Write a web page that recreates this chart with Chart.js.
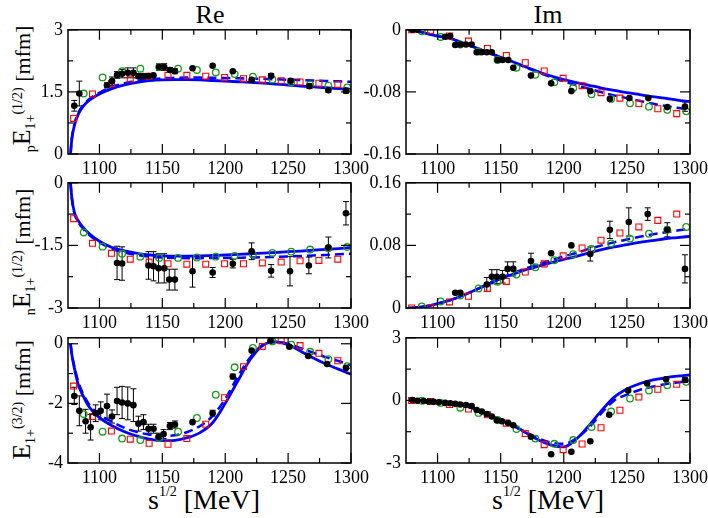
<!DOCTYPE html>
<html>
<head>
<meta charset="utf-8">
<script src="https://cdn.jsdelivr.net/npm/chart.js@4.4.0/dist/chart.umd.min.js"></script>
<style>
body { margin: 0; background: #fff; width: 708px; height: 518px; position: relative; overflow: hidden; font-family: "Liberation Serif", "Times New Roman", serif; }
canvas { position: absolute; }
.lbl { position: absolute; white-space: nowrap; color: #000; line-height: 1; }
.title { font-size: 26px; transform: translateX(-50%); }
.xt { font-size: 28px; transform: translateX(-50%); }
.xt sup { font-size: 14px; vertical-align: 13px; }
.ylab { font-size: 22px; transform: translate(-50%, -50%) rotate(-90deg); }
.ylab .big { font-size: 26px; }
.ylab sub, .ylab sup { font-size: 14px; line-height: 0; }
</style>
</head>
<body>
<div class="lbl title" style="left:210px; top:2px;">Re</div>
<div class="lbl title" style="left:548px; top:2px;">Im</div>
<div class="lbl ylab" style="left:22px; top:89px;"><sub>p</sub><span class="big">E</span><sub>1+</sub><sup>(1/2)</sup> [mfm]</div>
<div class="lbl ylab" style="left:22px; top:252px;"><sub>n</sub><span class="big">E</span><sub>1+</sub><sup>(1/2)</sup> [mfm]</div>
<div class="lbl ylab" style="left:22px; top:400px;"><span class="big">E</span><sub>1+</sub><sup>(3/2)</sup> [mfm]</div>
<div class="lbl xt" style="left:204px; top:485px;">s<sup>1/2</sup> [MeV]</div>
<div class="lbl xt" style="left:548px; top:485px;">s<sup>1/2</sup> [MeV]</div>

<canvas id="c1"></canvas>
<canvas id="c2"></canvas>
<canvas id="c3"></canvas>
<canvas id="c4"></canvas>
<canvas id="c5"></canvas>
<canvas id="c6"></canvas>

<script>
// --- energies (MeV) ---
const xMajor = [1100, 1150, 1200, 1250, 1300];
const xMinor = [1125, 1175, 1225, 1275];
const fitX = [1077, 1078, 1080, 1083, 1087, 1092, 1100, 1110, 1120, 1130, 1140, 1150, 1160, 1170, 1180, 1190, 1200, 1210, 1220, 1230, 1240, 1250, 1260, 1270, 1280, 1290, 1300];
const greenX = [1087.5, 1102.5, 1118, 1132.5, 1147.5, 1162.5, 1177.5, 1192.5, 1207.5, 1222, 1237.5, 1252.5, 1267.5, 1282, 1297];
const redX = [1079.5, 1094.5, 1109.5, 1124.5, 1139.5, 1154.5, 1169.5, 1184.5, 1199.5, 1214.5, 1229.5, 1244.5, 1259.5, 1274.5, 1289.5];
const pBlackX = [1080, 1084, 1106, 1110, 1114, 1118, 1122.5, 1127, 1131, 1135, 1139, 1143, 1147.5, 1151.5, 1156, 1160, 1174, 1190, 1206, 1221, 1236.5, 1252, 1267, 1282, 1296];
const nBlackX = [1114, 1118, 1139, 1143, 1147, 1151.5, 1155.5, 1160, 1174, 1190, 1206, 1221, 1236.5, 1251.5, 1266.5, 1282, 1296];
const dBlackX = [1080, 1084, 1089, 1093, 1097, 1101, 1106, 1110, 1114, 1118, 1122.5, 1127, 1131, 1135, 1139, 1143, 1147, 1151, 1156, 1160, 1174, 1190, 1206, 1221, 1236, 1251, 1266, 1281, 1296];

// --- E(1/2) proton, Re ---
const pReBlack = [1.165, 1.46, 1.66, 1.76, 1.91, 1.94, 1.96, 1.96, 1.88, 1.88, 1.88, 1.9, 2.1, 2.1, 2.03, 2.0, 2.07, 2.13, 2.0, 1.79, 1.89, 1.77, 1.64, 1.54, 1.53];
const pReBlackErr = [0.13, 0.3, 0.06, 0.1, 0.08, 0.1, 0.12, 0.12, 0.06, 0.06, 0.04, 0.04, 0.08, 0.08, 0.06, 0.06, 0.02, 0.02, 0.03, 0.04, 0.05, 0.05, 0.06, 0.05, 0.06];
const pReGreen = [1.46, 1.85, 2.0, 2.06, 2.1, 2.06, 2.03, 1.97, 1.93, 1.87, 1.8, 1.73, 1.68, 1.65, 1.61];
const pReRed = [0.86, 1.45, 1.70, 1.81, 1.88, 1.9, 1.9, 1.88, 1.85, 1.82, 1.79, 1.77, 1.74, 1.71, 1.68];
const pReFit = [0, 0.35, 0.68, 0.95, 1.15, 1.30, 1.45, 1.58, 1.67, 1.73, 1.77, 1.79, 1.795, 1.795, 1.79, 1.775, 1.76, 1.745, 1.73, 1.71, 1.69, 1.665, 1.64, 1.62, 1.60, 1.58, 1.56];
const pReDash = [0, 0.36, 0.70, 0.98, 1.18, 1.33, 1.48, 1.62, 1.71, 1.77, 1.80, 1.83, 1.84, 1.845, 1.845, 1.84, 1.835, 1.83, 1.82, 1.815, 1.805, 1.795, 1.785, 1.775, 1.765, 1.755, 1.745];

// --- E(1/2) proton, Im ---
const pImBlack = [0, 0, -0.009, -0.008, -0.0196, -0.019, -0.019, -0.019, -0.029, -0.029, -0.029, -0.029, -0.039, -0.039, -0.039, -0.049, -0.059, -0.069, -0.079, -0.079, -0.089, -0.088, -0.088, -0.0996, -0.099];
const pImBlackErr = [0.001, 0.001, 0.001, 0.001, 0.001, 0.001, 0.001, 0.001, 0.001, 0.001, 0.001, 0.001, 0.001, 0.001, 0.001, 0.001, 0.001, 0.001, 0.001, 0.001, 0.001, 0.001, 0.001, 0.001, 0.006];
const pImGreen = [-0.002, -0.0092, -0.019, -0.028, -0.039, -0.049, -0.058, -0.0675, -0.075, -0.083, -0.089, -0.0946, -0.099, -0.103, -0.105];
const pImRed = [0, -0.001, -0.008, -0.0146, -0.024, -0.033, -0.0425, -0.053, -0.0625, -0.072, -0.081, -0.088, -0.095, -0.1017, -0.108];
const pImFit = [0, 0, -0.0005, -0.0015, -0.003, -0.005, -0.008, -0.011, -0.017, -0.023, -0.029, -0.0355, -0.0415, -0.048, -0.054, -0.0595, -0.064, -0.068, -0.0715, -0.075, -0.078, -0.081, -0.0835, -0.086, -0.088, -0.0905, -0.0925];
const pImDash = [0, 0, -0.0005, -0.0015, -0.003, -0.005, -0.008, -0.011, -0.017, -0.023, -0.029, -0.0355, -0.0415, -0.0485, -0.055, -0.061, -0.0665, -0.0715, -0.076, -0.0805, -0.0845, -0.088, -0.0915, -0.095, -0.098, -0.1005, -0.103];

// --- E(1/2) neutron, Re ---
const nReBlack = [-1.92, -1.935, -1.98, -2.0, -2.05, -2.05, -2.32, -2.32, -2.12, -2.15, -1.94, -1.64, -2.11, -2.12, -1.98, -1.55, -0.73];
const nReBlackErr = [0.4, 0.4, 0.33, 0.35, 0.35, 0.35, 0.25, 0.25, 0.38, 0.12, 0.1, 0.2, 0.15, 0.35, 0.2, 0.25, 0.28];
const nReGreen = [-1.19, -1.53, -1.70, -1.77, -1.80, -1.80, -1.79, -1.77, -1.75, -1.72, -1.68, -1.65, -1.60, -1.57, -1.54];
const nReRed = [-0.86, -1.45, -1.69, -1.83, -1.90, -1.94, -1.95, -1.95, -1.94, -1.94, -1.92, -1.9, -1.87, -1.86, -1.83];
const nReFit = [0, -0.35, -0.7, -0.9, -1.07, -1.22, -1.40, -1.55, -1.63, -1.69, -1.73, -1.75, -1.755, -1.755, -1.75, -1.74, -1.73, -1.715, -1.70, -1.685, -1.67, -1.65, -1.635, -1.615, -1.595, -1.575, -1.55];
const nReDash = [0, -0.36, -0.72, -0.93, -1.1, -1.25, -1.43, -1.58, -1.67, -1.73, -1.77, -1.79, -1.80, -1.805, -1.805, -1.80, -1.80, -1.795, -1.79, -1.785, -1.775, -1.765, -1.755, -1.74, -1.73, -1.715, -1.70];

// --- E(1/2) neutron, Im ---
const nImBlack = [0.0195, 0.0195, 0.030, 0.040, 0.040, 0.040, 0.050, 0.050, 0.060, 0.070, 0.080, 0.069, 0.0999, 0.11, 0.12, 0.10, 0.050];
const nImBlackErr = [0.001, 0.001, 0.009, 0.009, 0.009, 0.008, 0.009, 0.009, 0.01, 0.002, 0.002, 0.009, 0.011, 0.018, 0.008, 0.009, 0.018];
const nImGreen = [0.002, 0.0083, 0.016, 0.025, 0.0336, 0.0427, 0.052, 0.061, 0.0688, 0.0755, 0.0825, 0.0887, 0.095, 0.1, 0.1036];
const nImRed = [0, 0.0004, 0.0078, 0.015, 0.025, 0.034, 0.046, 0.0564, 0.0667, 0.0767, 0.0867, 0.0958, 0.1036, 0.112, 0.12];
const nImFit = [0, 0, 0.0002, 0.0006, 0.0013, 0.0025, 0.0055, 0.0100, 0.0160, 0.0230, 0.0305, 0.0375, 0.0435, 0.049, 0.0535, 0.058, 0.062, 0.066, 0.0705, 0.0745, 0.078, 0.081, 0.084, 0.086, 0.0885, 0.090, 0.0916];
const nImDash = [0, 0, 0.0002, 0.0006, 0.0013, 0.0025, 0.0055, 0.0100, 0.0160, 0.0230, 0.0305, 0.0380, 0.0445, 0.0505, 0.0560, 0.061, 0.066, 0.0705, 0.0755, 0.080, 0.084, 0.0875, 0.091, 0.094, 0.0965, 0.099, 0.101];

// --- E(3/2), Re ---
const dReBlack = [-1.75, -2.25, -2.6, -2.8, -2.33, -2.25, -2.09, -2.44, -1.92, -1.97, -2.0, -2.06, -2.68, -2.63, -2.85, -2.85, -3.12, -3.03, -2.76, -2.71, -2.63, -2.33, -1.1, -0.23, 0.11, -0.1, -0.41, -0.68, -0.81];
const dReBlackErr = [0.29, 0.5, 0.4, 0.43, 0.28, 0.3, 0.4, 0.22, 0.46, 0.54, 0.55, 0.55, 0.25, 0.25, 0.15, 0.15, 0.12, 0.15, 0.12, 0.12, 0.05, 0.1, 0.08, 0.05, 0.05, 0.05, 0.05, 0.05, 0.05];
const dReGreen = [-2.36, -2.95, -3.18, -3.23, -3.16, -2.95, -2.49, -1.71, -0.79, -0.14, 0.08, -0.03, -0.27, -0.52, -0.75];
const dReRed = [-1.42, -2.44, -2.93, -3.20, -3.34, -3.37, -3.18, -2.7, -1.81, -0.77, -0.09, 0.1, -0.06, -0.32, -0.57];
const dReFit = [0, -0.35, -0.8, -1.35, -1.75, -2.13, -2.48, -2.75, -2.95, -3.10, -3.2, -3.25, -3.24, -3.15, -2.98, -2.65, -2.0, -1.25, -0.52, -0.05, 0.06, -0.03, -0.25, -0.48, -0.68, -0.85, -1.02];
const dReDash = [0, -0.33, -0.75, -1.25, -1.68, -2.05, -2.38, -2.62, -2.82, -2.96, -3.05, -3.09, -3.07, -2.96, -2.76, -2.42, -1.85, -1.1, -0.45, -0.03, 0.06, 0.0, -0.15, -0.3, -0.45, -0.58, -0.72];

// --- E(3/2), Im ---
const dImBlack = [0.02, -0.02, -0.03, -0.05, -0.07, -0.09, -0.12, -0.14, -0.16, -0.2, -0.22, -0.27, -0.46, -0.53, -0.65, -0.77, -0.95, -1.0, -1.08, -1.19, -1.74, -2.58, -2.46, -1.96, -0.69, 0.47, 0.81, 1.01, 0.98];
const dImBlackErr = [0.02, 0.02, 0.02, 0.02, 0.02, 0.02, 0.02, 0.02, 0.02, 0.02, 0.02, 0.02, 0.02, 0.02, 0.02, 0.02, 0.02, 0.02, 0.02, 0.02, 0.03, 0.03, 0.03, 0.03, 0.05, 0.05, 0.05, 0.08, 0.12];
const dImGreen = [-0.02, -0.12, -0.35, -0.6, -0.94, -1.37, -1.83, -2.08, -1.9, -1.28, -0.53, 0.09, 0.47, 0.73, 0.89];
const dImRed = [0.0, -0.05, -0.2, -0.41, -0.69, -1.09, -1.59, -2.12, -2.36, -2.09, -1.31, -0.47, 0.16, 0.53, 0.77];
const dImFit = [0.03, 0.03, 0.02, 0.01, 0, -0.02, -0.06, -0.13, -0.24, -0.42, -0.66, -0.94, -1.22, -1.55, -1.9, -2.14, -2.23, -1.85, -1.2, -0.48, 0.16, 0.55, 0.8, 0.97, 1.08, 1.16, 1.22];
const dImDash = [0.03, 0.03, 0.02, 0.01, 0, -0.02, -0.06, -0.13, -0.24, -0.42, -0.66, -0.94, -1.22, -1.52, -1.83, -2.02, -2.08, -1.82, -1.3, -0.6, 0.0, 0.28, 0.5, 0.65, 0.77, 0.86, 0.94];

// --- panel setup ---
const panels = [
    { id: 'c1', box: [68, 26, 351, 154], yMin: 0, yMax: 3, major: [0, 1.5, 3], minor: [0.75, 2.25], labels: ['0', '1.5', '3'],
      bx: pBlackX, by: pReBlack, be: pReBlackErr, gy: pReGreen, ry: pReRed, fit: pReFit, dash: pReDash },
    { id: 'c2', box: [406, 26, 690, 154], yMin: -0.16, yMax: 0, major: [-0.16, -0.08, 0], minor: [-0.12, -0.04], labels: ['-0.16', '-0.08', '0'],
      bx: pBlackX, by: pImBlack, be: pImBlackErr, gy: pImGreen, ry: pImRed, fit: pImFit, dash: pImDash },
    { id: 'c3', box: [68, 179, 351, 308], yMin: -3, yMax: 0, major: [-3, -1.5, 0], minor: [-2.25, -0.75], labels: ['-3', '-1.5', '0'],
      bx: nBlackX, by: nReBlack, be: nReBlackErr, gy: nReGreen, ry: nReRed, fit: nReFit, dash: nReDash },
    { id: 'c4', box: [406, 179, 690, 308], yMin: 0, yMax: 0.16, major: [0, 0.08, 0.16], minor: [0.04, 0.12], labels: ['0', '0.08', '0.16'],
      bx: nBlackX, by: nImBlack, be: nImBlackErr, gy: nImGreen, ry: nImRed, fit: nImFit, dash: nImDash },
    { id: 'c5', box: [68, 334, 351, 463], yMin: -4, yMax: 0.2, major: [-4, -2, 0], minor: [-3, -1], labels: ['-4', '-2', '0'],
      bx: dBlackX, by: dReBlack, be: dReBlackErr, gy: dReGreen, ry: dReRed, fit: dReFit, dash: dReDash },
    { id: 'c6', box: [406, 334, 690, 463], yMin: -3, yMax: 3, major: [-3, 0, 3], minor: [-1.5, 1.5], labels: ['-3', '0', '3'],
      bx: dBlackX, by: dImBlack, be: dImBlackErr, gy: dImGreen, ry: dImRed, fit: dImFit, dash: dImDash }
];

const PAD_L = 62, PAD_T = 12, PAD_R = 24, PAD_B = 26;
Chart.defaults.font.family = 'Liberation Serif';
const tickFont = { family: 'Liberation Serif', size: 18 };

function pts(xs, ys) {
    return xs.map((x, i) => ({ x: x, y: ys[i] }));
}

// frame, inward ticks and error bars
function framePlugin(p) {
    return {
        id: 'frame' + p.id,
        beforeDatasetsDraw(chart) {
            const ctx = chart.ctx, xs = chart.scales.x, ys = chart.scales.y;
            ctx.save();
            ctx.strokeStyle = '#000';
            ctx.lineWidth = 1;
            p.bx.forEach((xv, i) => {
                const x = xs.getPixelForValue(xv);
                const y1 = ys.getPixelForValue(p.by[i] - p.be[i]);
                const y2 = ys.getPixelForValue(p.by[i] + p.be[i]);
                if (Math.abs(y1 - y2) < 4) return;
                ctx.beginPath();
                ctx.moveTo(x, y1); ctx.lineTo(x, y2);
                ctx.moveTo(x - 3, y1); ctx.lineTo(x + 3, y1);
                ctx.moveTo(x - 3, y2); ctx.lineTo(x + 3, y2);
                ctx.stroke();
            });
            ctx.restore();
        },
        afterDraw(chart) {
            const ctx = chart.ctx, xs = chart.scales.x, ys = chart.scales.y;
            const a = chart.chartArea;
            ctx.save();
            ctx.strokeStyle = '#000';
            ctx.lineWidth = 1.2;
            const line = (x1, y1, x2, y2) => { ctx.beginPath(); ctx.moveTo(x1, y1); ctx.lineTo(x2, y2); ctx.stroke(); };
            xMajor.forEach(v => { const x = xs.getPixelForValue(v); line(x, a.bottom, x, a.bottom - 10); line(x, a.top, x, a.top + 10); });
            xMinor.forEach(v => { const x = xs.getPixelForValue(v); line(x, a.bottom, x, a.bottom - 5); line(x, a.top, x, a.top + 5); });
            p.major.forEach(v => { const y = ys.getPixelForValue(v); line(a.left, y, a.left + 10, y); line(a.right, y, a.right - 10, y); });
            p.minor.forEach(v => { const y = ys.getPixelForValue(v); line(a.left, y, a.left + 5, y); line(a.right, y, a.right - 5, y); });
            ctx.lineWidth = 1.5;
            ctx.strokeRect(a.left, a.top, a.right - a.left, a.bottom - a.top);
            ctx.restore();
        }
    };
}

function makePanel(p) {
    const cv = document.getElementById(p.id);
    const w = p.box[2] - p.box[0] + PAD_L + PAD_R;
    const h = p.box[3] - p.box[1] + PAD_T + PAD_B;
    cv.width = w; cv.height = h;
    cv.style.left = (p.box[0] - PAD_L) + 'px';
    cv.style.top = (p.box[1] - PAD_T) + 'px';
    cv.style.width = w + 'px'; cv.style.height = h + 'px';

    new Chart(cv, {
        type: 'scatter',
        data: {
            datasets: [
                { data: pts(p.bx, p.by), pointStyle: 'circle', pointRadius: 3.3, backgroundColor: '#000', borderColor: '#000', borderWidth: 0 },
                { data: pts(greenX, p.gy), pointStyle: 'circle', pointRadius: 3.3, backgroundColor: 'rgba(0,0,0,0)', borderColor: '#1a9a1a', borderWidth: 1.3 },
                { data: pts(redX, p.ry), pointStyle: 'rect', pointRadius: 4.2, backgroundColor: 'rgba(0,0,0,0)', borderColor: '#ff0000', borderWidth: 1.1 },
                { data: pts(fitX, p.fit), showLine: true, pointRadius: 0, borderColor: '#0000ff', borderWidth: 2.8, cubicInterpolationMode: 'monotone' },
                { data: pts(fitX, p.dash), showLine: true, pointRadius: 0, borderColor: '#0000ff', borderWidth: 2.5, borderDash: [9, 5], cubicInterpolationMode: 'monotone' }
            ]
        },
        options: {
            responsive: false,
            animation: false,
            devicePixelRatio: 1,
            layout: { padding: { left: 0, top: PAD_T, right: PAD_R, bottom: 0 } },
            plugins: { legend: { display: false }, tooltip: { enabled: false } },
            scales: {
                x: {
                    type: 'linear', min: 1075, max: 1300,
                    grid: { display: false, drawTicks: false },
                    border: { display: false },
                    ticks: { font: tickFont, color: '#000', padding: 4, maxRotation: 0, autoSkip: false, callback: v => String(v) },
                    afterBuildTicks: s => { s.ticks = xMajor.map(v => ({ value: v })); },
                    afterFit: s => { s.height = PAD_B; }
                },
                y: {
                    type: 'linear', min: p.yMin, max: p.yMax,
                    grid: { display: false, drawTicks: false },
                    border: { display: false },
                    ticks: { font: tickFont, color: '#000', padding: 5, autoSkip: false, callback: (v, i) => p.labels[i] },
                    afterBuildTicks: s => { s.ticks = p.major.map(v => ({ value: v })); },
                    afterFit: s => { s.width = PAD_L; }
                }
            }
        },
        plugins: [framePlugin(p)]
    });
}

panels.forEach(makePanel);
</script>
</body>
</html>
